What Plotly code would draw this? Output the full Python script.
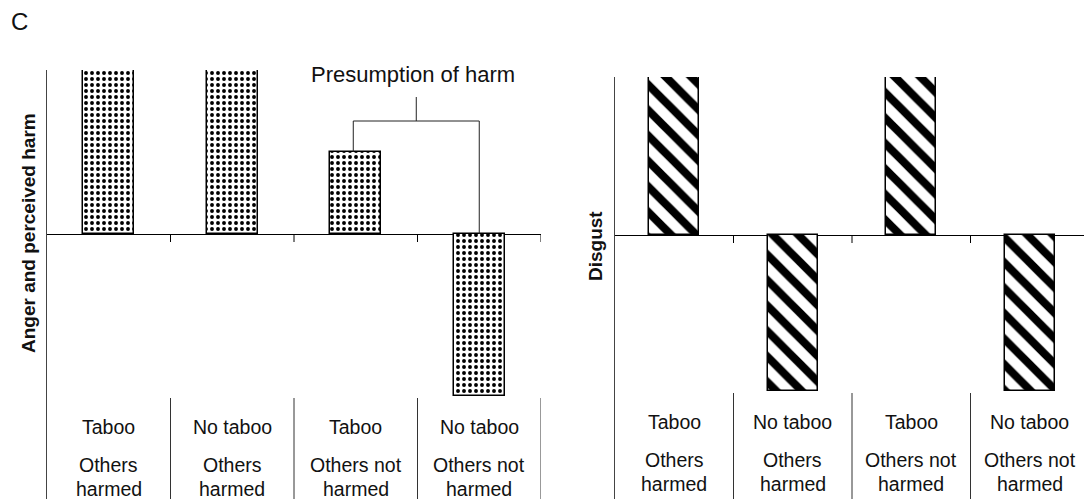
import plotly.graph_objects as go

# ---- data ----
cond_top = ["Taboo", "No taboo", "Taboo", "No taboo"]
cond_mid = ["Others", "Others", "Others not", "Others not"]
cond_low = ["harmed", "harmed", "harmed", "harmed"]
anger_harm = [1.0, 1.0, 0.5, -0.99]
disgust = [1.0, -0.99, 1.0, -0.99]
panel_label = "C"
bracket_label = "Presumption of harm"

W, H = 1084, 499
FONT = "Liberation Sans, Arial, sans-serif"
INK = "#111111"
idx = list(range(len(cond_top)))

fig = go.Figure()

fig.add_trace(go.Bar(
    x=idx, y=anger_harm, width=0.41, xaxis="x", yaxis="y",
    marker=dict(color="white", line=dict(color="black", width=1.5),
                pattern=dict(shape=".", fgcolor="black", bgcolor="white", fgopacity=1,
                             size=6, solidity=0.33)),
    showlegend=False, hoverinfo="skip"))

fig.add_trace(go.Bar(
    x=idx, y=disgust, width=0.42, xaxis="x2", yaxis="y2",
    marker=dict(color="white", line=dict(color="black", width=1.5),
                pattern=dict(shape="\\", fgcolor="black", bgcolor="white", fgopacity=1,
                             size=18, solidity=0.45)),
    showlegend=False, hoverinfo="skip"))

# pixel layout helpers
def px_x(p):
    return p / W

def px_y(p):
    return 1 - p / H

L_LEFT, L_RIGHT, L_TOP = 47, 541, 70
R_LEFT, R_TOP = 615, 77
R_STEP = 118.5
L_ZERO, R_ZERO = 234, 235

l_scale = (L_ZERO - L_TOP) / max(anger_harm)
r_scale = (R_ZERO - R_TOP) / max(disgust)
l_ymin = -(H - L_ZERO) / l_scale
r_ymin = -(H - R_ZERO) / r_scale
r_xmax = -0.5 + (W - R_LEFT) / R_STEP

axis_common = dict(showgrid=False, showticklabels=False, ticks="", fixedrange=True)

fig.update_layout(
    width=W, height=H, margin=dict(l=0, r=0, t=0, b=0),
    paper_bgcolor="white", plot_bgcolor="white", bargap=0,
    font=dict(family=FONT, color=INK, size=19),
    xaxis=dict(domain=[px_x(L_LEFT), px_x(L_RIGHT)], range=[-0.5, 3.5], zeroline=False,
               showline=False, anchor="y", **axis_common),
    yaxis=dict(domain=[0, px_y(L_TOP)], range=[l_ymin, max(anger_harm)], zeroline=True,
               zerolinecolor="black", zerolinewidth=1, showline=True, linecolor="#444444",
               linewidth=1, anchor="x", **axis_common),
    xaxis2=dict(domain=[px_x(R_LEFT), 1], range=[-0.5, r_xmax], zeroline=False,
                showline=False, anchor="y2", **axis_common),
    yaxis2=dict(domain=[0, px_y(R_TOP)], range=[r_ymin, max(disgust)], zeroline=True,
                zerolinecolor="black", zerolinewidth=1, showline=True, linecolor="#444444",
                linewidth=1, anchor="x2", **axis_common),
)

shapes = []
annotations = []

for xr, yr, ymin, label_y in [("x", "y", l_ymin, (427, 465, 489)),
                              ("x2", "y2", r_ymin, (422, 460, 484))]:
    for i in idx:
        b = i + 0.5
        # small tick under zero line
        shapes.append(dict(type="line", xref=xr, yref=yr, x0=b, x1=b, ysizemode="pixel",
                           yanchor=0, y0=0, y1=-8, line=dict(color="black", width=1)))
        # category divider in label band
        shapes.append(dict(type="line", xref=xr, yref=yr, x0=b, x1=b, y0=-1.0, y1=ymin,
                           line=dict(color="#333333", width=1)))
        for txt, ly in zip((cond_top[i], cond_mid[i], cond_low[i]), label_y):
            annotations.append(dict(xref=xr, yref="paper", x=i, y=px_y(ly), text=txt,
                                    showarrow=False, yanchor="middle", font=dict(size=19.5)))

# bracket linking Taboo/no-harm and No taboo/no-harm bars
bx0, bx1 = 1.98, 3.0
bmid = (bx0 + bx1) / 2
by = (L_ZERO - 121) / l_scale
btop = (L_ZERO - 97) / l_scale
line_k = dict(color="#222222", width=1)
shapes += [
    dict(type="line", xref="x", yref="y", x0=bx0, x1=bx0, y0=anger_harm[2], y1=by, line=line_k),
    dict(type="line", xref="x", yref="y", x0=bx1, x1=bx1, y0=max(anger_harm[3], 0), y1=by, line=line_k),
    dict(type="line", xref="x", yref="y", x0=bx0, x1=bx1, y0=by, y1=by, line=line_k),
    dict(type="line", xref="x", yref="y", x0=bmid, x1=bmid, y0=by, y1=btop, line=line_k),
]
annotations.append(dict(xref="x", yref="paper", x=bmid - 0.03, y=px_y(74), text=bracket_label,
                        showarrow=False, yanchor="middle", font=dict(size=22)))

# axis titles and panel label
annotations.append(dict(xref="paper", yref="paper", x=px_x(28), y=px_y(233),
                        text="<b>Anger and perceived harm</b>", textangle=-90, showarrow=False,
                        xanchor="center", yanchor="middle", font=dict(size=19)))
annotations.append(dict(xref="paper", yref="paper", x=px_x(595), y=px_y(246),
                        text="<b>Disgust</b>", textangle=-90, showarrow=False,
                        xanchor="center", yanchor="middle", font=dict(size=19)))
annotations.append(dict(xref="paper", yref="paper", x=px_x(19), y=px_y(21), text=panel_label,
                        showarrow=False, xanchor="center", yanchor="middle", font=dict(size=24)))

fig.update_layout(shapes=shapes, annotations=annotations)
fig.write_html("out.html", config={"displayModeBar": False},
               post_script="document.body.style.margin='0';document.body.style.overflow='hidden';")
